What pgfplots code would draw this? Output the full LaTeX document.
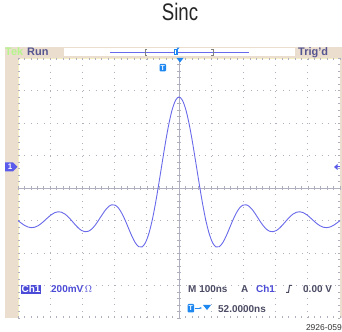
\documentclass[border=0pt]{standalone}
\usepackage{fontspec}
\setmainfont{Liberation Sans}
\usepackage{pgfplots}
\usetikzlibrary{arrows.meta}
\pgfplotsset{compat=1.18}
\definecolor{tanc}{RGB}{236,222,206}
\definecolor{gridc}{RGB}{175,175,190}
\definecolor{wave}{RGB}{105,105,235}
\definecolor{txtblue}{RGB}{75,75,215}
\definecolor{txtdark}{RGB}{75,75,100}
\definecolor{azure}{RGB}{30,135,240}
\definecolor{tekgreen}{RGB}{180,245,140}
\definecolor{runc}{RGB}{85,85,145}
\definecolor{yel}{RGB}{245,240,195}
\definecolor{gndc}{RGB}{90,90,235}
\begin{document}
\begin{tikzpicture}
\begin{scope}[x=1bp,y=1bp]
\useasboundingbox (0,0) rectangle (342,332);
\fill[tanc] (5,14) rectangle (342,285);
\fill[white] (18,14) rectangle (340,274);
\draw[yel,line width=0.8bp] (18,14) -- (18,274) -- (340,274);
% centre crosshair
\draw[gridc,line width=0.6bp] (18,144) -- (340,144);
\draw[gridc,line width=0.6bp] (179,14) -- (179,274);
\foreach \i in {0,...,50} {
  \draw[gridc,line width=0.6bp] ({18+\i*6.44},142) -- ++(0,4);
  \draw[gridc,line width=0.6bp] ({18+\i*6.44},274) -- ++(0,-2);
  \draw[gridc,line width=0.6bp] ({18+\i*6.44},14) -- ++(0,2);
}
\foreach \j in {0,...,40} {
  \draw[gridc,line width=0.6bp] (177,{14+\j*6.5}) -- ++(4,0);
  \draw[gridc,line width=0.6bp] (18,{14+\j*6.5}) -- ++(2,0);
  \draw[gridc,line width=0.6bp] (340,{14+\j*6.5}) -- ++(-2,0);
}
\end{scope}
\begin{axis}[at={(18bp,14bp)}, anchor=south west,
  scale only axis, width=322bp, height=260bp,
  xmin=-5, xmax=5, ymin=-4, ymax=4,
  axis line style={draw=none},
  xtick={-4,...,4}, ytick={-3,...,3},
  xticklabels={}, yticklabels={},
  major tick length=0pt,
  grid=major,
  major grid style={draw=gridc, line width=0.9bp, dash pattern=on 0.9bp off 5.56bp},
  clip=true]
\addplot[wave, line width=0.9bp, smooth] coordinates {
(-5.005,-1.000) (-4.901,-1.079) (-4.797,-1.149) (-4.693,-1.199) (-4.588,-1.220)
(-4.484,-1.208) (-4.380,-1.163) (-4.275,-1.090) (-4.171,-1.000) (-4.067,-0.905)
(-3.963,-0.820) (-3.858,-0.758) (-3.754,-0.731) (-3.650,-0.745) (-3.546,-0.799)
(-3.441,-0.888) (-3.337,-1.000) (-3.233,-1.119) (-3.128,-1.228) (-3.024,-1.308)
(-2.920,-1.346) (-2.816,-1.331) (-2.711,-1.263) (-2.607,-1.148) (-2.503,-1.000)
(-2.398,-0.839) (-2.294,-0.689) (-2.190,-0.574) (-2.086,-0.516) (-1.981,-0.529)
(-1.877,-0.620) (-1.773,-0.782) (-1.668,-1.000) (-1.564,-1.247) (-1.460,-1.489)
(-1.356,-1.688) (-1.251,-1.806) (-1.147,-1.813) (-1.043,-1.684) (-0.939,-1.411)
(-0.834,-1.000) (-0.730,-0.471) (-0.626,0.140) (-0.521,0.788) (-0.417,1.419)
(-0.313,1.980) (-0.209,2.421) (-0.104,2.703) (0,2.800)
(0.104,2.703) (0.209,2.421) (0.313,1.980) (0.417,1.419) (0.521,0.788)
(0.626,0.140) (0.730,-0.471) (0.834,-1.000) (0.939,-1.411) (1.043,-1.684)
(1.147,-1.813) (1.251,-1.806) (1.356,-1.688) (1.460,-1.489) (1.564,-1.247)
(1.668,-1.000) (1.773,-0.782) (1.877,-0.620) (1.981,-0.529) (2.086,-0.516)
(2.190,-0.574) (2.294,-0.689) (2.398,-0.839) (2.503,-1.000) (2.607,-1.148)
(2.711,-1.263) (2.816,-1.331) (2.920,-1.346) (3.024,-1.308) (3.128,-1.228)
(3.233,-1.119) (3.337,-1.000) (3.441,-0.888) (3.546,-0.799) (3.650,-0.745)
(3.754,-0.731) (3.858,-0.758) (3.963,-0.820) (4.067,-0.905) (4.171,-1.000)
(4.275,-1.090) (4.380,-1.163) (4.484,-1.208) (4.588,-1.220) (4.693,-1.199)
(4.797,-1.149) (4.901,-1.079) (5.005,-1.000)
};
\end{axis}
\begin{scope}[x=1bp,y=1bp]
% title
\node[anchor=base, xscale=0.78, inner sep=0pt, font=\fontsize{24}{28}\selectfont, text=black!85] at (180,312) {Sinc};
% top bar
\fill[white] (64,276) rectangle (295,284);
\draw[wave,line width=0.8bp] (110,279.7) -- (249,279.7);
\draw[gray,line width=0.6bp] (147,277) -- (145,277) -- (145,283) -- (147,283);
\draw[gray,line width=0.6bp] (211,277) -- (213,277) -- (213,283) -- (211,283);
\fill[azure] (173.5,277) rectangle (177.5,283);
\fill[white] (174.8,281.2) rectangle (176.2,282);
\fill[white] (175.1,278) rectangle (175.9,282);
\fill[azure] (176.5,284.3) -- (179.5,284.3) -- (178,282.6) -- cycle;
\node[anchor=base west, inner sep=0pt, font=\bfseries\fontsize{11}{13}\selectfont, text=tekgreen] at (5,276.5) {Tek};
\node[anchor=base west, inner sep=0pt, font=\bfseries\fontsize{11}{13}\selectfont, text=runc] at (27,276.5) {Run};
\node[anchor=base west, inner sep=0pt, font=\bfseries\fontsize{11}{13}\selectfont, text=runc] at (298,276.5) {Trig'd};
% trigger position marker and T marker
\fill[azure] (176.5,274) -- (183.5,274) -- (180,269.5) -- cycle;
\fill[azure, rounded corners=1bp] (159.5,268) rectangle (166,260.5);
\node[inner sep=0pt, font=\bfseries\fontsize{7}{8}\selectfont, text=white] at (162.75,264.3) {T};
% ground marker
\fill[gndc] (5,160.5) -- (13,160.5) -- (17.5,165) -- (13,169.5) -- (5,169.5) -- cycle;
\node[inner sep=0pt, font=\bfseries\fontsize{8}{9}\selectfont, text=white] at (10,165) {1};
% right marker
\fill[gndc] (334,165) -- (337.5,168) -- (337.5,162) -- cycle;
\draw[gndc,line width=1bp] (336,165) -- (340,165);
% bottom readouts
\fill[txtblue] (21,37.5) rectangle (41,47);
\node[anchor=base west, inner sep=0pt, font=\bfseries\fontsize{10}{12}\selectfont, text=white] at (21.5,39.3) {Ch1};
\node[anchor=base west, inner sep=0pt, font=\bfseries\fontsize{10}{12}\selectfont, text=txtblue] at (51,39.3) {200mV\,$\Omega$};
\node[anchor=base west, inner sep=0pt, font=\bfseries\fontsize{10}{12}\selectfont, text=txtdark] at (188,39.3) {M 100ns};
\node[anchor=base west, inner sep=0pt, font=\bfseries\fontsize{10}{12}\selectfont, text=txtdark] at (241,39.3) {A};
\node[anchor=base west, inner sep=0pt, font=\bfseries\fontsize{10}{12}\selectfont, text=txtblue] at (256,39.3) {Ch1};
\draw[txtdark,line width=1bp] (286,39.5) -- (288.5,39.5) -- (289.5,46.5) -- (292,46.5);
\node[anchor=base west, inner sep=0pt, font=\bfseries\fontsize{10}{12}\selectfont, text=txtdark] at (303,39.3) {0.00 V};
\fill[azure, rounded corners=1bp] (187.5,19.5) rectangle (194,28);
\node[inner sep=0pt, font=\bfseries\fontsize{7}{8}\selectfont, text=white] at (190.75,23.8) {T};
\draw[azure,line width=0.8bp,-{Stealth[length=2.5bp]}] (194.5,24) -- (202,24);
\fill[azure] (203,27) -- (211,27) -- (207,22) -- cycle;
\node[anchor=base west, inner sep=0pt, font=\bfseries\fontsize{10}{12}\selectfont, text=txtdark] at (218,19.3) {52.0000ns};
\node[anchor=base east, inner sep=0pt, font=\fontsize{8.5}{10}\selectfont, text=black!80] at (342,1.5) {2926-059};
\end{scope}
\end{tikzpicture}
\end{document}
